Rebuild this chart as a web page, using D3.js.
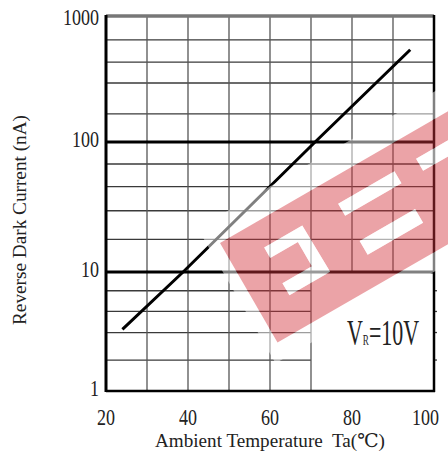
<!DOCTYPE html>
<html>
<head>
<meta charset="utf-8">
<script src="https://cdn.jsdelivr.net/npm/d3@7"></script>
<style>
  body { margin: 0; background: #fff; }
</style>
</head>
<body>
<div id="chart"></div>
<script>
// chart data
var curveTemp = [24, 38.8, 71, 94.2];
var curveCurrent = [3.3, 10, 100, 540];
var xTicks = [20, 40, 60, 80, 100];
var xGrid = [30, 40, 50, 60, 70, 80, 90];
var yTicks = [1, 10, 100, 1000];
var yTickLabels = ["1", "10", "100", "1000"];
var yMinor = [1.82, 3.1, 4.66, 6.96, 17.8, 29.6, 45.3, 67.7, 167, 294, 431, 646];
var xTitle = "Ambient Temperature  Ta(\u2103)";
var yTitle = "Reverse Dark Current (nA)";

var svgWidth = 448;
var svgHeight = 459;
var serif = "'Liberation Serif', 'DejaVu Serif', 'Noto Serif CJK SC', serif";

var svg = d3.select("#chart")
  .append("svg")
  .attr("width", svgWidth)
  .attr("height", svgHeight)
  .attr("font-family", serif);

// scales (the decades are not drawn equally tall in the original)
var x = d3.scaleLinear().domain([20, 100]).range([106, 434]);
var y = d3.scaleLog().domain([1, 10, 100, 1000]).range([391, 272, 142, 16]);

var grid = svg.append("g");

// minor horizontal lines; below 10 they stop at the 70 line (label box)
grid.selectAll("line.minor")
  .data(yMinor)
  .enter()
  .append("line")
  .attr("x1", x(20))
  .attr("x2", d => d < 10 ? x(70) : x(100))
  .attr("y1", d => y(d))
  .attr("y2", d => y(d))
  .attr("stroke", "#3a3a3a")
  .attr("stroke-width", 1.3);

// small ticks on the right border for the lowest decade
grid.selectAll("line.rtick")
  .data(yMinor.filter(d => d < 10))
  .enter()
  .append("line")
  .attr("x1", x(100))
  .attr("x2", x(100) + 3)
  .attr("y1", d => y(d))
  .attr("y2", d => y(d))
  .attr("stroke", "#3a3a3a")
  .attr("stroke-width", 1.3);

// vertical lines
grid.selectAll("line.vert")
  .data(xGrid)
  .enter()
  .append("line")
  .attr("x1", d => x(d))
  .attr("x2", d => x(d))
  .attr("y1", y(1000))
  .attr("y2", d => d > 70 ? y(10) : y(1))
  .attr("stroke", "#555")
  .attr("stroke-width", 1.3);

// major lines at 10 and 100
grid.selectAll("line.major")
  .data([10, 100])
  .enter()
  .append("line")
  .attr("x1", x(20))
  .attr("x2", x(100))
  .attr("y1", d => y(d))
  .attr("y2", d => y(d))
  .attr("stroke", "#000")
  .attr("stroke-width", 3);

// the curve
var line = d3.line()
  .x(d => x(d[0]))
  .y(d => y(d[1]));

svg.append("path")
  .datum(d3.zip(curveTemp, curveCurrent))
  .attr("d", line)
  .attr("fill", "none")
  .attr("stroke", "#000")
  .attr("stroke-width", 3);

// frame
svg.append("line")
  .attr("x1", x(20)).attr("x2", x(100))
  .attr("y1", y(1000)).attr("y2", y(1000))
  .attr("stroke", "#777").attr("stroke-width", 3.5);
svg.append("line")
  .attr("x1", x(20)).attr("x2", x(100) + 1)
  .attr("y1", y(1)).attr("y2", y(1))
  .attr("stroke", "#000").attr("stroke-width", 2.5);
svg.append("line")
  .attr("x1", x(20)).attr("x2", x(20))
  .attr("y1", y(1000) - 1).attr("y2", y(1) + 1)
  .attr("stroke", "#000").attr("stroke-width", 3);
svg.append("line")
  .attr("x1", x(100)).attr("x2", x(100))
  .attr("y1", y(1000) - 1).attr("y2", y(1) + 1)
  .attr("stroke", "#000").attr("stroke-width", 2.5);

// watermark band with "EE" cut outs
var wm = svg.append("g")
  .attr("transform", "translate(220,243) rotate(-30)");

function rectPath(u0, v0, u1, v1) {
  return "M" + u0 + "," + v0 + "H" + u1 + "V" + v1 + "H" + u0 + "Z";
}
var letters = [
  "M36,26L80,26L81,80L34,80L34,66L68,66L68,38L36,38Z",
  rectPath(122, 25, 187, 39),
  rectPath(122, 68, 186, 84),
  rectPath(212, 25, 290, 39)
];
var band = rectPath(0, 0, 420, 115);

wm.append("path")
  .attr("d", rectPath(-12, -24, 420, 132) + band)
  .attr("fill", "#fff")
  .attr("fill-opacity", 0.5)
  .attr("fill-rule", "evenodd");

wm.append("path")
  .attr("d", band + letters.join(""))
  .attr("fill", "#d3333c")
  .attr("fill-opacity", 0.45)
  .attr("fill-rule", "evenodd");

wm.append("path")
  .attr("d", letters.join(""))
  .attr("fill", "#fff")
  .attr("fill-opacity", 0.6);

// tick labels
svg.selectAll("text.ylab")
  .data(yTicks)
  .enter()
  .append("text")
  .attr("x", 99)
  .attr("y", (d, i) => y(d) + (i === 3 ? 9 : 5))
  .attr("text-anchor", "end")
  .attr("font-size", 24)
  .attr("fill", "#222")
  .attr("textLength", (d, i) => yTickLabels[i].length * 9)
  .attr("lengthAdjust", "spacingAndGlyphs")
  .text((d, i) => yTickLabels[i]);

svg.selectAll("text.xlab")
  .data(xTicks)
  .enter()
  .append("text")
  .attr("x", d => d === 100 ? 439 : x(d))
  .attr("y", 425)
  .attr("text-anchor", d => d === 100 ? "end" : "middle")
  .attr("font-size", 24)
  .attr("fill", "#222")
  .attr("textLength", d => String(d).length * 9)
  .attr("lengthAdjust", "spacingAndGlyphs")
  .text(d => d);

// axis titles
svg.append("text")
  .attr("x", 270)
  .attr("y", 447)
  .attr("text-anchor", "middle")
  .attr("font-size", 19)
  .attr("fill", "#222")
  .attr("textLength", 230)
  .attr("lengthAdjust", "spacingAndGlyphs")
  .style("white-space", "pre")
  .text(xTitle);

svg.append("text")
  .attr("transform", "translate(26,220) rotate(-90)")
  .attr("text-anchor", "middle")
  .attr("font-size", 19)
  .attr("fill", "#222")
  .attr("textLength", 210)
  .attr("lengthAdjust", "spacingAndGlyphs")
  .text(yTitle);

// condition label
var cond = svg.append("text")
  .attr("transform", "translate(347,345) scale(0.61,1)")
  .attr("font-size", 36)
  .attr("fill", "#222");
cond.append("tspan").text("V");
cond.append("tspan").attr("font-size", 15).text("R");
cond.append("tspan").text("=10V");
</script>
</body>
</html>
